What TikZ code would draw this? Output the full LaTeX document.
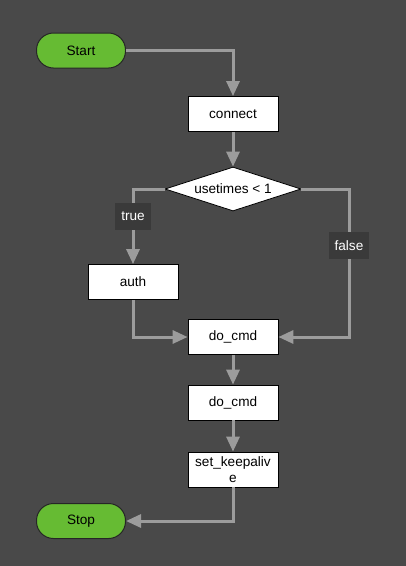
\documentclass[tikz,border=0pt]{standalone}
\usepackage{fontspec}
\setmainfont{Liberation Sans}
\usetikzlibrary{shapes.geometric,arrows.meta}
\definecolor{bg}{HTML}{494949}
\definecolor{conn}{HTML}{9C9C9C}
\definecolor{termgreen}{HTML}{66BB33}
\definecolor{lblbg}{HTML}{3A3A3A}
\begin{document}
\begin{tikzpicture}[x=1pt,y=-1pt,
  every node/.style={font=\fontsize{13.6}{16}\selectfont},
  term/.style={draw=black!85,line width=1pt,fill=termgreen,rounded corners=17pt,minimum width=89pt,minimum height=35pt,inner sep=0pt},
  proc/.style={draw=black,line width=0.8pt,fill=white,minimum width=90pt,minimum height=35pt,inner sep=0pt,align=center},
  decide/.style={diamond,draw=black,line width=0.8pt,fill=white,minimum width=136pt,minimum height=44pt,aspect=3.09,inner sep=0pt},
  flow/.style={draw=conn,line width=3pt,-{Triangle[length=15pt,width=13pt]}},
  lbl/.style={fill=lblbg,text=white,inner sep=0pt,minimum width=36pt,minimum height=27pt}]
\fill[bg] (0,0) rectangle (406,566);
\useasboundingbox (0,0) rectangle (406,566);
\node[term] (start) at (81,50.5) {Start};
\node[proc] (connect) at (233,114) {connect};
\node[decide] (cond) at (233,189) {usetimes < 1};
\node[proc] (auth) at (133,282) {auth};
\node[proc] (do1) at (233,337) {do\_cmd};
\node[proc] (do2) at (233,402.5) {do\_cmd};
\node[proc,text width=88pt] (keep) at (233,469.5) {set\_keepaliv\\e};
\node[term] (stop) at (81,521) {Stop};
\coordinate (fc) at (349,337);
\draw[flow] (start.east) -| (connect.north);
\draw[flow] (connect.south) -- (cond.north);
\draw[flow] (cond.west) -| node[lbl,pos=0.68] (ltrue) {true} (auth.north);
\draw[flow] (cond.east) -| node[lbl,pos=0.69,minimum width=40pt] (lfalse) {false} (fc) -- (do1.east);
\draw[flow] (auth.south) |- (do1.west);
\draw[flow] (do1.south) -- (do2.north);
\draw[flow] (do2.south) -- (keep.north);
\draw[flow] (keep.south) |- (stop.east);
\end{tikzpicture}
\end{document}
